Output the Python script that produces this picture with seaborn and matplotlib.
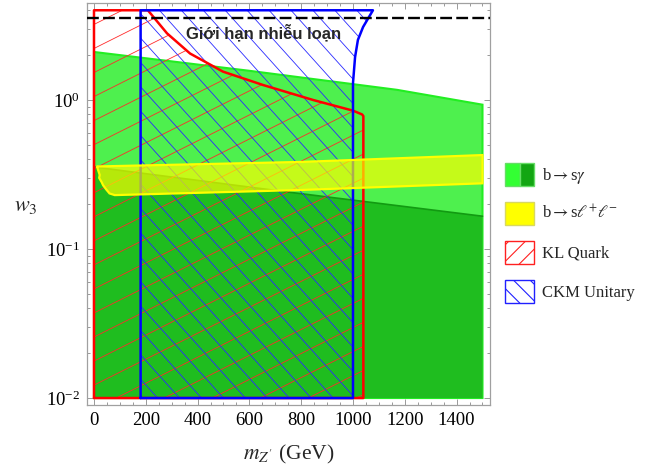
import numpy as np
import matplotlib
matplotlib.use("Agg")
import matplotlib.pyplot as plt
import seaborn as sns
from matplotlib.patches import Polygon, Patch
from matplotlib.collections import LineCollection
from matplotlib.legend_handler import HandlerTuple
from matplotlib.ticker import MultipleLocator, LogLocator, NullFormatter


# --- data (m_Z' in GeV, w3 dimensionless) ---
W3_MIN = 0.01
PERT_LIMIT = np.sqrt(4 * np.pi)

# b -> s gamma : light green (upper edge) and dark green (upper edge)
BSG_LIGHT_X = [0, 600, 1170, 1500]
BSG_LIGHT_Y = [2.10, 1.57, 1.17, 0.93]
BSG_DARK_X = [0, 750, 1500]
BSG_DARK_Y = [0.355, 0.241, 0.166]

# b -> s l+ l- : yellow band
BSLL_UPPER_X = [10, 800, 1500]
BSLL_UPPER_Y = [0.358, 0.384, 0.427]
BSLL_LOWER_X = [1500, 800, 80]
BSLL_LOWER_Y = [0.276, 0.249, 0.230]
BSLL_EDGE_X = [60, 48, 35, 30, 20, 22, 18, 12]
BSLL_EDGE_Y = [0.236, 0.250, 0.268, 0.280, 0.300, 0.314, 0.330, 0.355]

# KL quark (red) region
KL_X = [0, 0, 208, 282, 371, 498, 653, 846, 1000, 1035, 1040, 1040]
KL_Y = [0.01, 4.0, 4.0, 2.80, 2.05, 1.55, 1.26, 1.0, 0.848, 0.80, 0.78, 0.01]

# CKM unitarity (blue) region
CKM_X = [180, 180, 1077, 1039, 1019, 1008, 1000, 1000]
CKM_Y = [0.01, 4.0, 4.0, 3.09, 2.53, 1.94, 1.30, 0.01]

X_TICKS = [0, 200, 400, 600, 800, 1000, 1200, 1400]


def add_hatch(ax, patch, angle, spacing, color, lw, zorder):
    # custom hatch: parallel lines in pixel space, clipped to the patch
    w, h = ax.bbox.width, ax.bbox.height
    a = np.deg2rad(angle)
    d = np.array([np.cos(a), np.sin(a)])
    n = np.array([-np.sin(a), np.cos(a)])
    c = np.array([w / 2, h / 2])
    diag = np.hypot(w, h)
    segs = []
    for t in np.arange(-diag, diag, spacing):
        p0 = (c + t * n - diag * d) / [w, h]
        p1 = (c + t * n + diag * d) / [w, h]
        segs.append([p0, p1])
    lc = LineCollection(segs, transform=ax.transAxes, colors=color,
                        linewidths=lw, zorder=zorder)
    ax.add_collection(lc)
    lc.set_clip_path(patch)


sns.set_theme(style="ticks")
plt.rcParams["font.family"] = ["Liberation Serif", "DejaVu Serif"]
plt.rcParams["mathtext.fontset"] = "stix"
plt.rcParams["hatch.linewidth"] = 0.8

fig = plt.figure(figsize=(6.6, 4.72), dpi=100)
ax = fig.add_axes([87 / 660, 67 / 472, 403 / 660, 402.5 / 472])
ax.set_yscale("log")
ax.set_xlim(-27, 1529)
ax.set_ylim(0.00898, 4.51)

# green regions
light = list(zip(BSG_LIGHT_X, BSG_LIGHT_Y)) + [(1500, W3_MIN), (0, W3_MIN)]
dark = list(zip(BSG_DARK_X, BSG_DARK_Y)) + [(1500, W3_MIN), (0, W3_MIN)]
ax.add_patch(Polygon(light, closed=True, fc="#4ef04e", ec="#22ee22", lw=1.5, zorder=1))
ax.add_patch(Polygon(dark, closed=True, fc="#1fbd1f", ec="none", zorder=1.1))
sns.lineplot(x=BSG_DARK_X, y=BSG_DARK_Y, sort=False, estimator=None,
             color="#129a12", lw=1.2, ax=ax, zorder=1.2)

# KL quark and CKM regions (hatched)
kl_patch = Polygon(list(zip(KL_X, KL_Y)), closed=True, fc="none", ec="none", zorder=2)
ckm_patch = Polygon(list(zip(CKM_X, CKM_Y)), closed=True, fc="none", ec="none", zorder=2)
ax.add_patch(kl_patch)
ax.add_patch(ckm_patch)
add_hatch(ax, kl_patch, 26.6, 21.5, "#ff2a2a", 0.6, 2)
add_hatch(ax, ckm_patch, -48, 16.3, "#2a2aff", 0.6, 2)
sns.lineplot(x=KL_X + [KL_X[0]], y=KL_Y + [KL_Y[0]], sort=False, estimator=None,
             color="#ff0000", lw=1.8, ax=ax, zorder=3)
sns.lineplot(x=CKM_X + [CKM_X[0]], y=CKM_Y + [CKM_Y[0]], sort=False, estimator=None,
             color="#0000ff", lw=1.8, ax=ax, zorder=3)

# yellow band
band = (list(zip(BSLL_UPPER_X, BSLL_UPPER_Y)) + list(zip(BSLL_LOWER_X, BSLL_LOWER_Y))
        + list(zip(BSLL_EDGE_X, BSLL_EDGE_Y)))
ax.add_patch(Polygon(band, closed=True, fc="#ffff00", alpha=0.68, ec="none", zorder=4))
ax.add_patch(Polygon(band, closed=True, fc="none", ec="#ffff00", lw=1.6, zorder=4.1))

# perturbative limit
ax.axhline(PERT_LIMIT, color="black", lw=1.7, ls=(0, (5, 1.8)), zorder=5)
ax.text(656, 2.85, "Giới hạn nhiễu loạn", family=["Liberation Sans", "DejaVu Sans"],
        fontweight="bold", fontsize=12, ha="center", va="center", zorder=6)

# axes styling
ax.set_xticks(X_TICKS)
ax.xaxis.set_minor_locator(MultipleLocator(50))
ax.yaxis.set_major_locator(LogLocator(base=10))
ax.yaxis.set_minor_locator(LogLocator(base=10, subs=np.arange(2, 10)))
ax.yaxis.set_minor_formatter(NullFormatter())
ax.tick_params(which="both", direction="in", top=True, right=True,
               color="#999999", width=0.7, labelsize=13.5, labelcolor="black")
ax.tick_params(which="major", length=4.5, pad=5)
ax.tick_params(which="minor", length=2.5)
for sp in ax.spines.values():
    sp.set_color("#a0a0a0")
    sp.set_linewidth(0.9)
ax.grid(False)

ax.set_xlabel(r"$m_{Z'}$ (GeV)", fontsize=15.5, va="center")
ax.xaxis.set_label_coords(0.5, -0.124)
ax.set_ylabel(r"$w_3$", fontsize=16, rotation=0, ha="center", va="center")
ax.yaxis.set_label_coords(-0.151, 0.492)

# legend
h_green = (Patch(fc="#33ff33", ec="#66dd66"), Patch(fc="#12a612", ec="#66dd66"))
h_yellow = Patch(fc="#ffff00", ec="#d8d860")
h_red = Patch(fc="white", ec="#ff2020", hatch="//")
h_blue = Patch(fc="white", ec="#2020ff", hatch="\\\\")
fig.legend([h_green, h_yellow, h_red, h_blue],
           [r"b$\rightarrow$s$\gamma$", r"b$\rightarrow$s$\ell^{+}\ell^{-}$",
            "KL Quark", "CKM Unitary"],
           handler_map={tuple: HandlerTuple(ndivide=None, pad=0)},
           loc="upper left", bbox_to_anchor=(505 / 660, 1 - 163 / 472),
           frameon=False, fontsize=12, handlelength=1.75, handleheight=1.75,
           labelspacing=0.95, handletextpad=0.45, borderpad=0, borderaxespad=0)

fig.savefig("out.png", dpi=100)
